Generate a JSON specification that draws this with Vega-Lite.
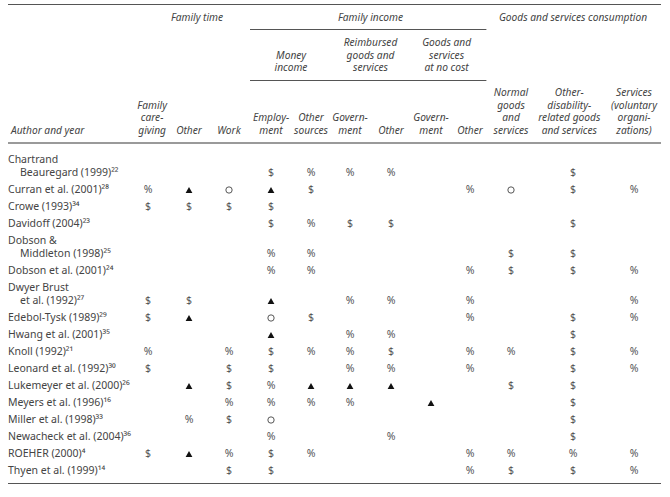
{
  "$schema": "https://vega.github.io/schema/vega-lite/v6.json",
  "width": 670,
  "height": 497,
  "autosize": {"type": "none"},
  "padding": 0,
  "background": "white",
  "config": {"view": {"stroke": null}},
  "datasets": {
    "rules": [
      {"row": -12, "col": 0, "col2": 13, "kind": "line"},
      {"row": -10, "col": 3.5, "col2": 9.4, "kind": "line"},
      {"row": -6, "col": 3.5, "col2": 9.4, "kind": "line"},
      {"row": -1, "col": 0, "col2": 13, "kind": "header"},
      {"row": 18, "col": 0, "col2": 13, "kind": "line"}
    ],
    "heads": [
      {"col": 2.2, "row": -11, "t": "Family time"},
      {"col": 6.5, "row": -11, "t": "Family income"},
      {"col": 11, "row": -11, "t": "Goods and services consumption"},
      {"col": 4.5, "row": -8, "t": "Money"},
      {"col": 4.5, "row": -7, "t": "income"},
      {"col": 6.5, "row": -9, "t": "Reimbursed"},
      {"col": 6.5, "row": -8, "t": "goods and"},
      {"col": 6.5, "row": -7, "t": "services"},
      {"col": 8.4, "row": -9, "t": "Goods and"},
      {"col": 8.4, "row": -8, "t": "services"},
      {"col": 8.4, "row": -7, "t": "at no cost"},
      {"col": 0, "row": -2, "t": "Author and year"},
      {"col": 1.1, "row": -4, "t": "Family"},
      {"col": 1.1, "row": -3, "t": "care-"},
      {"col": 1.1, "row": -2, "t": "giving"},
      {"col": 2, "row": -2, "t": "Other"},
      {"col": 3, "row": -2, "t": "Work"},
      {"col": 4, "row": -3, "t": "Employ-"},
      {"col": 4, "row": -2, "t": "ment"},
      {"col": 5, "row": -3, "t": "Other"},
      {"col": 5, "row": -2, "t": "sources"},
      {"col": 6, "row": -3, "t": "Govern-"},
      {"col": 6, "row": -2, "t": "ment"},
      {"col": 7, "row": -2, "t": "Other"},
      {"col": 8, "row": -3, "t": "Govern-"},
      {"col": 8, "row": -2, "t": "ment"},
      {"col": 9, "row": -2, "t": "Other"},
      {"col": 10, "row": -5, "t": "Normal"},
      {"col": 10, "row": -4, "t": "goods"},
      {"col": 10, "row": -3, "t": "and"},
      {"col": 10, "row": -2, "t": "services"},
      {"col": 10.94, "row": -5, "t": "Other-"},
      {"col": 10.94, "row": -4, "t": "disability-"},
      {"col": 10.94, "row": -3, "t": "related goods"},
      {"col": 10.94, "row": -2, "t": "and services"},
      {"col": 12, "row": -5, "t": "Services"},
      {"col": 12, "row": -4, "t": "(voluntary"},
      {"col": 12, "row": -3, "t": "organi-"},
      {"col": 12, "row": -2, "t": "zations)"}
    ],
    "authors": [
      {"row": 1, "col": 0, "t": "Chartrand", "kind": "top"},
      {"row": 1, "col": 0, "t": "Beauregard (1999)²²", "kind": "cont"},
      {"row": 2, "col": 0, "t": "Curran et al. (2001)²⁸", "kind": "single"},
      {"row": 3, "col": 0, "t": "Crowe (1993)³⁴", "kind": "single"},
      {"row": 4, "col": 0, "t": "Davidoff (2004)²³", "kind": "single"},
      {"row": 5, "col": 0, "t": "Dobson &", "kind": "top"},
      {"row": 5, "col": 0, "t": "Middleton (1998)²⁵", "kind": "cont"},
      {"row": 6, "col": 0, "t": "Dobson et al. (2001)²⁴", "kind": "single"},
      {"row": 7, "col": 0, "t": "Dwyer Brust", "kind": "top"},
      {"row": 7, "col": 0, "t": "et al. (1992)²⁷", "kind": "cont"},
      {"row": 8, "col": 0, "t": "Edebol-Tysk (1989)²⁹", "kind": "single"},
      {"row": 9, "col": 0, "t": "Hwang et al. (2001)³⁵", "kind": "single"},
      {"row": 10, "col": 0, "t": "Knoll (1992)²¹", "kind": "single"},
      {"row": 11, "col": 0, "t": "Leonard et al. (1992)³⁰", "kind": "single"},
      {"row": 12, "col": 0, "t": "Lukemeyer et al. (2000)²⁶", "kind": "single"},
      {"row": 13, "col": 0, "t": "Meyers et al. (1996)¹⁶", "kind": "single"},
      {"row": 14, "col": 0, "t": "Miller et al. (1998)³³", "kind": "single"},
      {"row": 15, "col": 0, "t": "Newacheck et al. (2004)³⁶", "kind": "single"},
      {"row": 16, "col": 0, "t": "ROEHER (2000)⁴", "kind": "single"},
      {"row": 17, "col": 0, "t": "Thyen et al. (1999)¹⁴", "kind": "single"}
    ],
    "cells": [
      {"row": 1, "col": 4, "v": "$"}, {"row": 1, "col": 5, "v": "%"}, {"row": 1, "col": 6, "v": "%"}, {"row": 1, "col": 7, "v": "%"}, {"row": 1, "col": 11, "v": "$"},
      {"row": 2, "col": 1, "v": "%"}, {"row": 2, "col": 2, "v": "▲"}, {"row": 2, "col": 3, "v": "○"}, {"row": 2, "col": 4, "v": "▲"}, {"row": 2, "col": 5, "v": "$"}, {"row": 2, "col": 9, "v": "%"}, {"row": 2, "col": 10, "v": "○"}, {"row": 2, "col": 11, "v": "$"}, {"row": 2, "col": 12, "v": "%"},
      {"row": 3, "col": 1, "v": "$"}, {"row": 3, "col": 2, "v": "$"}, {"row": 3, "col": 3, "v": "$"}, {"row": 3, "col": 4, "v": "$"},
      {"row": 4, "col": 4, "v": "$"}, {"row": 4, "col": 5, "v": "%"}, {"row": 4, "col": 6, "v": "$"}, {"row": 4, "col": 7, "v": "$"}, {"row": 4, "col": 11, "v": "$"},
      {"row": 5, "col": 4, "v": "%"}, {"row": 5, "col": 5, "v": "%"}, {"row": 5, "col": 10, "v": "$"}, {"row": 5, "col": 11, "v": "$"},
      {"row": 6, "col": 4, "v": "%"}, {"row": 6, "col": 5, "v": "%"}, {"row": 6, "col": 9, "v": "%"}, {"row": 6, "col": 10, "v": "$"}, {"row": 6, "col": 11, "v": "$"}, {"row": 6, "col": 12, "v": "%"},
      {"row": 7, "col": 1, "v": "$"}, {"row": 7, "col": 2, "v": "$"}, {"row": 7, "col": 4, "v": "▲"}, {"row": 7, "col": 6, "v": "%"}, {"row": 7, "col": 7, "v": "%"}, {"row": 7, "col": 9, "v": "%"}, {"row": 7, "col": 12, "v": "%"},
      {"row": 8, "col": 1, "v": "$"}, {"row": 8, "col": 2, "v": "▲"}, {"row": 8, "col": 4, "v": "○"}, {"row": 8, "col": 5, "v": "$"}, {"row": 8, "col": 9, "v": "%"}, {"row": 8, "col": 11, "v": "$"}, {"row": 8, "col": 12, "v": "%"},
      {"row": 9, "col": 4, "v": "▲"}, {"row": 9, "col": 6, "v": "%"}, {"row": 9, "col": 7, "v": "%"}, {"row": 9, "col": 11, "v": "$"},
      {"row": 10, "col": 1, "v": "%"}, {"row": 10, "col": 3, "v": "%"}, {"row": 10, "col": 4, "v": "$"}, {"row": 10, "col": 5, "v": "%"}, {"row": 10, "col": 6, "v": "%"}, {"row": 10, "col": 7, "v": "$"}, {"row": 10, "col": 9, "v": "%"}, {"row": 10, "col": 10, "v": "%"}, {"row": 10, "col": 11, "v": "$"}, {"row": 10, "col": 12, "v": "%"},
      {"row": 11, "col": 1, "v": "$"}, {"row": 11, "col": 3, "v": "$"}, {"row": 11, "col": 4, "v": "$"}, {"row": 11, "col": 6, "v": "%"}, {"row": 11, "col": 7, "v": "%"}, {"row": 11, "col": 9, "v": "%"}, {"row": 11, "col": 11, "v": "$"}, {"row": 11, "col": 12, "v": "%"},
      {"row": 12, "col": 2, "v": "▲"}, {"row": 12, "col": 3, "v": "$"}, {"row": 12, "col": 4, "v": "%"}, {"row": 12, "col": 5, "v": "▲"}, {"row": 12, "col": 6, "v": "▲"}, {"row": 12, "col": 7, "v": "▲"}, {"row": 12, "col": 10, "v": "$"}, {"row": 12, "col": 11, "v": "$"},
      {"row": 13, "col": 3, "v": "%"}, {"row": 13, "col": 4, "v": "%"}, {"row": 13, "col": 5, "v": "%"}, {"row": 13, "col": 6, "v": "%"}, {"row": 13, "col": 8, "v": "▲"}, {"row": 13, "col": 11, "v": "$"},
      {"row": 14, "col": 2, "v": "%"}, {"row": 14, "col": 3, "v": "$"}, {"row": 14, "col": 4, "v": "○"}, {"row": 14, "col": 11, "v": "$"},
      {"row": 15, "col": 4, "v": "%"}, {"row": 15, "col": 7, "v": "%"}, {"row": 15, "col": 11, "v": "$"},
      {"row": 16, "col": 1, "v": "$"}, {"row": 16, "col": 2, "v": "▲"}, {"row": 16, "col": 3, "v": "%"}, {"row": 16, "col": 4, "v": "$"}, {"row": 16, "col": 5, "v": "%"}, {"row": 16, "col": 9, "v": "%"}, {"row": 16, "col": 10, "v": "%"}, {"row": 16, "col": 11, "v": "%"}, {"row": 16, "col": 12, "v": "%"},
      {"row": 17, "col": 3, "v": "$"}, {"row": 17, "col": 4, "v": "$"}, {"row": 17, "col": 9, "v": "%"}, {"row": 17, "col": 10, "v": "$"}, {"row": 17, "col": 11, "v": "$"}, {"row": 17, "col": 12, "v": "%"}
    ]
  },
  "encoding": {
    "x": {
      "field": "col",
      "type": "quantitative",
      "axis": null,
      "scale": {
        "type": "linear",
        "zero": false,
        "nice": false,
        "domain": [0, 1, 2, 3, 4, 5, 6, 7, 8, 9, 10, 11, 12, 13],
        "range": [8, 148, 189, 229, 271, 311, 350, 391, 431, 470, 511, 573, 634, 661]
      }
    },
    "y": {
      "field": "row",
      "type": "quantitative",
      "axis": null,
      "scale": {
        "type": "linear",
        "zero": false,
        "nice": false,
        "domain": [-12, -11, -10, -9, -8, -7, -6, -5, -4, -3, -2, -1, 1, 2, 3, 4, 5, 6, 7, 8, 9, 10, 11, 12, 13, 14, 15, 16, 17, 18],
        "range": [4.5, 18, 29.5, 43, 55.5, 68, 80.5, 93, 105.5, 118, 131, 143, 173, 190, 207, 224, 254, 271, 301, 318, 335, 352, 369, 386, 403, 420, 437, 454, 471, 483.5]
      }
    }
  },
  "layer": [
    {
      "data": {"name": "rules"},
      "transform": [{"filter": "datum.kind == 'line'"}],
      "mark": {"type": "rule", "color": "#555555", "strokeWidth": 1},
      "encoding": {"x2": {"field": "col2"}}
    },
    {
      "data": {"name": "rules"},
      "transform": [{"filter": "datum.kind == 'header'"}],
      "mark": {"type": "rule", "color": "#9a9a9a", "strokeWidth": 2},
      "encoding": {"x2": {"field": "col2"}}
    },
    {
      "data": {"name": "heads"},
      "transform": [{"filter": "datum.col > 0"}],
      "mark": {"type": "text", "font": "Noto Sans", "fontSize": 10.2, "fontStyle": "italic", "color": "#444444", "align": "center", "baseline": "middle"},
      "encoding": {"text": {"field": "t"}}
    },
    {
      "data": {"name": "heads"},
      "transform": [{"filter": "datum.col == 0"}],
      "mark": {"type": "text", "font": "Noto Sans", "fontSize": 10.2, "fontStyle": "italic", "color": "#444444", "align": "left", "baseline": "middle", "dx": 3},
      "encoding": {"text": {"field": "t"}}
    },
    {
      "data": {"name": "authors"},
      "transform": [{"filter": "datum.kind == 'single'"}],
      "mark": {"type": "text", "font": "Noto Sans", "fontSize": 10.5, "color": "#444444", "align": "left", "baseline": "middle"},
      "encoding": {"text": {"field": "t"}}
    },
    {
      "data": {"name": "authors"},
      "transform": [{"filter": "datum.kind == 'top'"}],
      "mark": {"type": "text", "font": "Noto Sans", "fontSize": 10.5, "color": "#444444", "align": "left", "baseline": "middle", "dy": -13},
      "encoding": {"text": {"field": "t"}}
    },
    {
      "data": {"name": "authors"},
      "transform": [{"filter": "datum.kind == 'cont'"}],
      "mark": {"type": "text", "font": "Noto Sans", "fontSize": 10.5, "color": "#444444", "align": "left", "baseline": "middle", "dx": 12},
      "encoding": {"text": {"field": "t"}}
    },
    {
      "data": {"name": "cells"},
      "transform": [{"filter": "datum.v == '$' || datum.v == '%'"}],
      "mark": {"type": "text", "font": "Noto Sans", "fontSize": 10.5, "color": "#555555", "align": "center", "baseline": "middle"},
      "encoding": {"text": {"field": "v"}}
    },
    {
      "data": {"name": "cells"},
      "transform": [{"filter": "datum.v == '▲'"}],
      "mark": {"type": "point", "shape": "triangle-up", "filled": true, "color": "#111111", "size": 46, "opacity": 1},
      "encoding": {}
    },
    {
      "data": {"name": "cells"},
      "transform": [{"filter": "datum.v == '○'"}],
      "mark": {"type": "point", "shape": "circle", "filled": false, "color": "#444444", "strokeWidth": 0.9, "size": 40, "opacity": 1},
      "encoding": {}
    }
  ]
}
